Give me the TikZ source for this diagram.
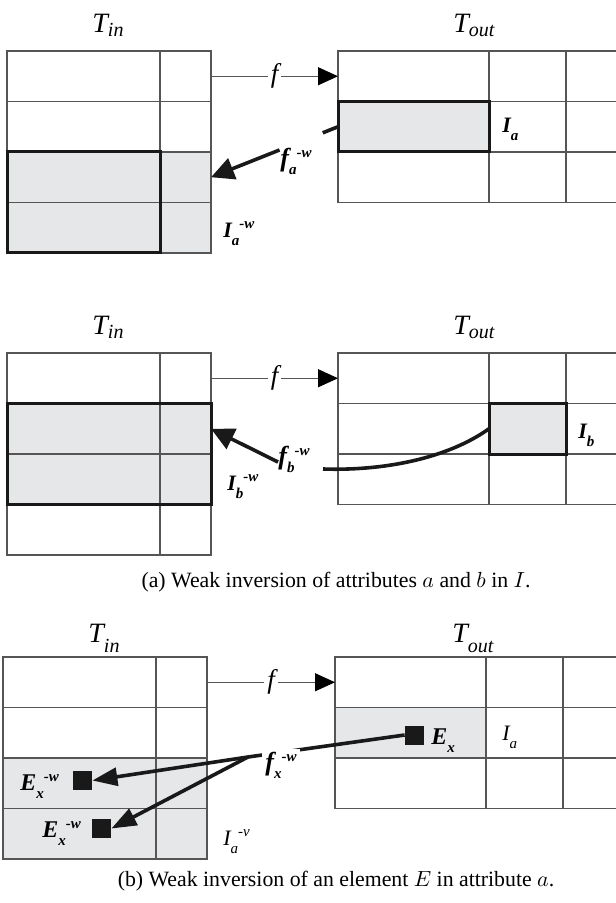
\documentclass[tikz,border=0pt]{standalone}
\usepackage{fontspec}
\setmainfont{Liberation Serif}
\usetikzlibrary{arrows.meta,calc,backgrounds}

\definecolor{hlgrey}{RGB}{230,231,233}
\definecolor{gridgrey}{RGB}{85,85,85}

% small raised / lowered indices of the labels
\newcommand{\lsub}[1]{\raisebox{-4pt}{\fontsize{7.5}{8}\selectfont #1}}
\newcommand{\lsup}[1]{\raisebox{4.5pt}{\fontsize{7.5}{8}\selectfont #1}}
\newcommand{\tsub}[2][-1.7pt]{\raisebox{#1}{\fontsize{10}{10}\selectfont #2}}

% input table: 4 rows, 2 columns
\newcommand{\tablein}[3]{\foreach \r in {1,2,3,4}{
        \node[cell, minimum width=76.5pt] (#1-\r-1) at (#2, #3+50.5*\r-50.5) {};
        \node[cell, minimum width=25.5pt] (#1-\r-2) at (#2+153, #3+50.5*\r-50.5) {};}
    }
% output table: 3 rows, 3 columns (last one cut by the page)
\newcommand{\tableout}[3]{\foreach \r in {1,2,3}{
        \node[cell, minimum width=75.5pt] (#1-\r-1) at (#2, #3+50.5*\r-50.5) {};
        \node[cell, minimum width=38.5pt] (#1-\r-2) at (#2+151, #3+50.5*\r-50.5) {};
        \node[cell, minimum width=27pt] (#1-\r-3) at (#2+228, #3+50.5*\r-50.5) {};}
    }

\begin{document}
\begin{tikzpicture}
        [x=0.5pt, y=-0.5pt,
        cell/.style={rectangle, draw=gridgrey, line width=0.6pt, inner sep=0pt, outer sep=0pt,
            minimum height=25.25pt, anchor=north west},
        hlbox/.style={draw=black!90, line width=1.5pt},
        farrow/.style={draw=gridgrey, line width=0.6pt, -{Triangle[length=10pt,width=9pt,black]}},
        fname/.style={fill=white, inner sep=1.5pt, font=\fontsize{13.5}{14}\selectfont\itshape},
        invline/.style={line width=1.8pt, black!90},
        invarrow/.style={invline, -{Triangle[length=11.5pt,width=11pt]}},
        invarrowx/.style={invline, -{Triangle[length=12.5pt,width=9pt]}},
        tname/.style={anchor=base west, inner sep=0pt, font=\fontsize{14}{14}\selectfont\itshape},
        flbl/.style={anchor=base west, inner sep=0pt, font=\fontsize{13}{13}\selectfont\bfseries\itshape},
        ilbl/.style={anchor=base west, inner sep=0pt, font=\fontsize{11}{11}\selectfont\bfseries\itshape},
        elbl/.style={anchor=base west, inner sep=0pt, font=\fontsize{12}{12}\selectfont\bfseries\itshape},
        plbl/.style={anchor=base west, inner sep=0pt, font=\fontsize{11}{11}\selectfont\itshape},
        dot/.style={rectangle, fill=black!90, minimum size=9.5pt, inner sep=0pt},
        caption/.style={font=\fontsize{10.9}{12}\selectfont},
        ]
        \useasboundingbox (0,0) rectangle (615,903);

        % ---- weak inversion of attribute a ----
        \tablein{A-in}{7}{51}
        \tableout{A-out}{338}{51}
        \node[tname] (A-tin) at (92,33) {T\tsub{in}};
        \node[tname] (A-tout) at (453,33) {T\tsub{out}};
        \begin{scope}[on background layer]
            \fill[hlgrey] (A-in-3-1.north west) rectangle (A-in-4-2.south east);
            \fill[hlgrey] (A-out-2-1.north west) rectangle (A-out-2-1.south east);
        \end{scope}
        \draw[hlbox] (A-in-3-1.north west) rectangle (A-in-4-1.south east);
        \draw[hlbox] (A-out-2-1.north west) rectangle (A-out-2-1.south east);
        \draw[farrow] (A-in-1-2.east) -- node[fname] (A-f) {f} (A-out-1-1.west);
        \coordinate (A-gapR) at ($(A-out-2-1.west)!0.12!(A-in-3-2.east)$);
        \coordinate (A-gapL) at ($(A-out-2-1.west)!0.46!(A-in-3-2.east)$);
        \draw[invline] (A-out-2-1.west) -- (A-gapR);
        \draw[invarrow] (A-gapL) -- (A-in-3-2.east);
        \node[flbl] (A-finv) at (280,167) {f\lsub{a}\lsup{-w}};
        \node[ilbl] (A-I) at (502,133) {I\lsub{a}};
        \node[ilbl] (A-Iinv) at (223,238) {I\lsub{a}\lsup{-w}};

        % ---- weak inversion of attribute b ----
        \tablein{B-in}{7}{353}
        \tableout{B-out}{338}{353}
        \node[tname] (B-tin) at (92,335) {T\tsub{in}};
        \node[tname] (B-tout) at (453,335) {T\tsub{out}};
        \begin{scope}[on background layer]
            \fill[hlgrey] (B-in-2-1.north west) rectangle (B-in-3-2.south east);
            \fill[hlgrey] (B-out-2-2.north west) rectangle (B-out-2-2.south east);
        \end{scope}
        \draw[hlbox] (B-in-2-1.north west) rectangle (B-in-3-2.south east);
        \draw[hlbox] (B-out-2-2.north west) rectangle (B-out-2-2.south east);
        \draw[farrow] (B-in-1-2.east) -- node[fname] (B-f) {f} (B-out-1-1.west);
        \coordinate (B-gapR) at (323,469);
        \coordinate (B-gapL) at (278,462);
        \draw[invline] (B-out-2-2.west) .. controls +(-42,30) and +(60,2) .. (B-gapR);
        \draw[invarrow] (B-gapL) -- (B-in-2-2.east);
        \node[flbl] (B-finv) at (278,464) {f\lsub{b}\lsup{-w}};
        \node[ilbl] (B-I) at (578,438) {I\lsub{b}};
        \node[ilbl] (B-Iinv) at (227,490) {I\lsub{b}\lsup{-w}};
        \node[caption] (cap-a) at (336,582) {(a) Weak inversion of attributes $a$ and $b$ in $I$.};

        % ---- weak inversion of an element ----
        \tablein{C-in}{3}{657}
        \tableout{C-out}{335}{657}
        \node[tname] (C-tin) at (88,642) {T\tsub[-5pt]{in}};
        \node[tname] (C-tout) at (452,642) {T\tsub[-5pt]{out}};
        \begin{scope}[on background layer]
            \fill[hlgrey] (C-in-3-1.north west) rectangle (C-in-4-2.south east);
            \fill[hlgrey] (C-out-2-1.north west) rectangle (C-out-2-1.south east);
        \end{scope}
        \draw[farrow] (C-in-1-2.east) -- node[fname] (C-f) {f} (C-out-1-1.west);
        \node[dot] (C-E) at (414.5,735) {};
        \node[dot] (C-E1) at (82.5,780.5) {};
        \node[dot] (C-E2) at (101.5,828.5) {};
        \coordinate (C-split) at (248,757);
        \draw[invline] (C-E.west) -- (C-split);
        \draw[invarrowx] (C-split) -- (C-E1.east);
        \draw[invarrowx] (C-split) -- (C-E2.east);
        \node[flbl, fill=white, inner sep=1.5pt] (C-finv) at (262,770) {f\lsub{x}\lsup{-w}};
        \node[elbl] (C-Ex) at (431,744) {E\lsub{x}};
        \node[elbl] (C-Ex1) at (20,790) {E\lsub{x}\lsup{-w}};
        \node[elbl] (C-Ex2) at (42,837) {E\lsub{x}\lsup{-w}};
        \node[plbl] (C-I) at (502,740) {I\lsub{a}};
        \node[plbl] (C-Iinv) at (223,845) {I\lsub{a}\lsup{-v}};
        \node[caption] (cap-b) at (336,881) {(b) Weak inversion of an element $E$ in attribute $a$.};
\end{tikzpicture}
\end{document}
